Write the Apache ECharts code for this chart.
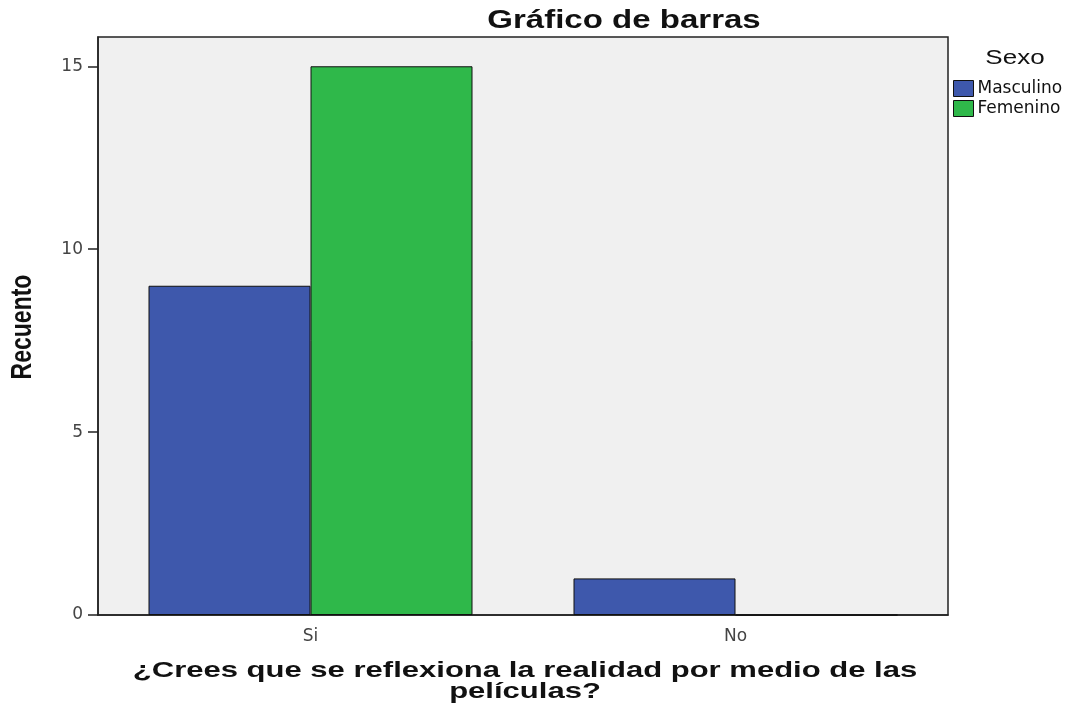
<!DOCTYPE html>
<html>
<head>
<meta charset="utf-8">
<script src="https://cdn.jsdelivr.net/npm/echarts@6/dist/echarts.min.js"></script>
<style>
  html, body { margin: 0; padding: 0; background: #fff; }
  #chart { width: 1084px; height: 709px; }
</style>
</head>
<body>
<div id="chart"></div>
<script>
// datos del gráfico
const categorias = ['Si', 'No'];
const masculino = [9, 1];
const femenino = [15, 0];

const tituloTexto = 'Gráfico de barras';
const ejeXTexto = '¿Crees que se reflexiona la realidad por medio de las\npelículas?';
const ejeYTexto = 'Recuento';

const chart = echarts.init(document.getElementById('chart'));

const barBorder = { borderColor: '#111', borderWidth: 1 };
const arial = '"Liberation Sans", Arial, sans-serif';

chart.setOption({
  animation: false,
  textStyle: { fontFamily: 'DejaVu Sans, sans-serif' },
  legend: {
    orient: 'vertical',
    left: 948,
    top: 75,
    icon: 'rect',
    itemWidth: 20,
    itemHeight: 16,
    itemGap: 3,
    data: ['Masculino', 'Femenino'],
    itemStyle: { borderColor: '#111', borderWidth: 1 },
    textStyle: { fontSize: 17, color: '#111', lineHeight: 16, padding: [0, 0, 0, -1] }
  },
  // texto estirado como en el original
  graphic: [
    {
      type: 'text',
      x: 624, y: 21, scaleX: 1.27,
      style: { text: tituloTexto, font: 'bold 26px ' + arial, fill: '#111', textAlign: 'center', textVerticalAlign: 'middle' }
    },
    {
      type: 'text',
      x: 1015, y: 58, scaleX: 1.3,
      style: { text: 'Sexo', font: '20px ' + arial, fill: '#111', textAlign: 'center', textVerticalAlign: 'middle' }
    },
    {
      type: 'text',
      x: 525, y: 681, scaleX: 1.41,
      style: { text: ejeXTexto, font: 'bold 22px ' + arial, lineHeight: 21, fill: '#111', textAlign: 'center', textVerticalAlign: 'middle' }
    },
    {
      type: 'text',
      x: 23, y: 327, rotation: Math.PI / 2, scaleY: 1.3,
      style: { text: ejeYTexto, font: 'bold 23px ' + arial, fill: '#111', textAlign: 'center', textVerticalAlign: 'middle' }
    }
  ],
  grid: {
    left: 98,
    right: 136,
    top: 37,
    bottom: 94,
    show: true,
    backgroundColor: '#f0f0f0',
    borderColor: '#222',
    borderWidth: 1.5
  },
  xAxis: {
    type: 'category',
    data: categorias,
    axisLine: { lineStyle: { color: '#222', width: 1.5 } },
    axisTick: { alignWithLabel: true, length: 8, lineStyle: { color: '#222', width: 1.5 } },
    axisLabel: { fontSize: 17, color: '#444', margin: 13 }
  },
  yAxis: {
    type: 'value',
    min: 0,
    max: 15.8,
    interval: 5,
    splitLine: { show: false },
    axisLine: { show: true, lineStyle: { color: '#222', width: 1.5 } },
    axisTick: { show: true, length: 10, lineStyle: { color: '#222', width: 1.5 } },
    axisLabel: { fontSize: 17, color: '#444', margin: 15, showMaxLabel: false }
  },
  series: [
    {
      name: 'Masculino',
      type: 'bar',
      data: masculino,
      barWidth: 162,
      barGap: '0%',
      itemStyle: Object.assign({ color: '#3e58ac' }, barBorder)
    },
    {
      name: 'Femenino',
      type: 'bar',
      data: femenino,
      barWidth: 162,
      barGap: '0%',
      itemStyle: Object.assign({ color: '#2fb84a' }, barBorder)
    }
  ]
});
</script>
</body>
</html>
